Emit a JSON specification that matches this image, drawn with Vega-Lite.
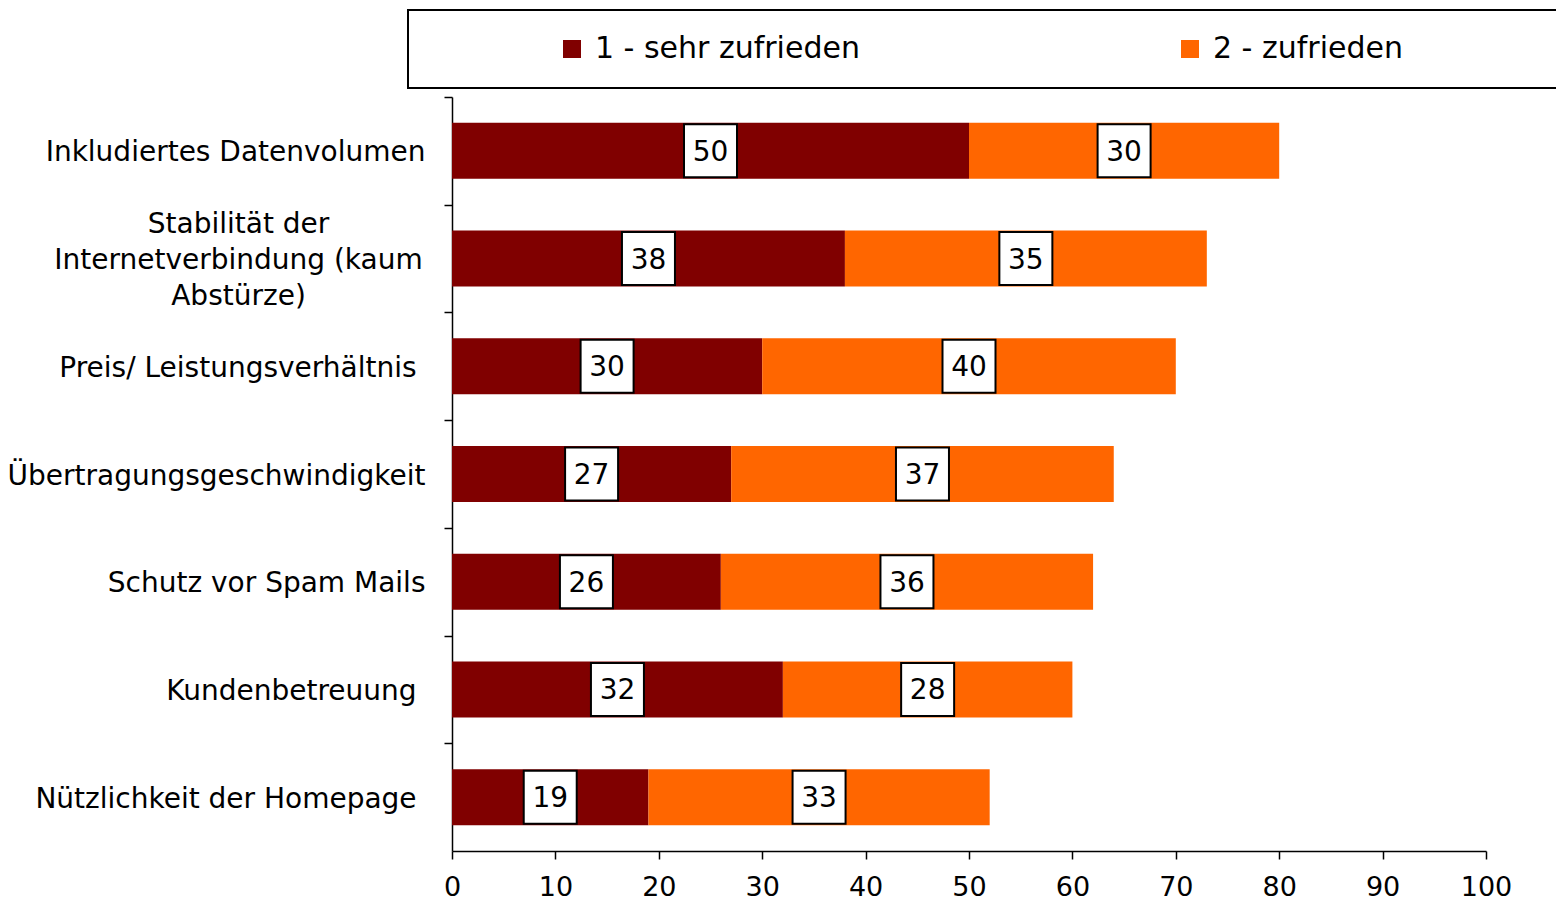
{
  "$schema": "https://vega.github.io/schema/vega-lite/v6.json",
  "autosize": {"type": "none"},
  "width": 1034,
  "height": 754,
  "padding": {"left": 452, "top": 97, "right": 70, "bottom": 49},
  "background": "white",
  "config": {
    "font": "DejaVu Sans",
    "view": {"stroke": null},
    "axis": {"labelFont": "DejaVu Sans", "labelColor": "black", "domainColor": "black", "tickColor": "black", "domainWidth": 1.5, "tickWidth": 1.5, "grid": false, "title": null},
    "legend": {"strokeWidth": 2}
  },
  "data": {
    "values": [
      {"Kategorie": "Inkludiertes Datenvolumen", "Zufriedenheit": "1 - sehr zufrieden", "Prozent": 50},
      {"Kategorie": "Inkludiertes Datenvolumen", "Zufriedenheit": "2 - zufrieden", "Prozent": 30},
      {"Kategorie": "Stabilität der Internetverbindung (kaum Abstürze)", "Zufriedenheit": "1 - sehr zufrieden", "Prozent": 38},
      {"Kategorie": "Stabilität der Internetverbindung (kaum Abstürze)", "Zufriedenheit": "2 - zufrieden", "Prozent": 35},
      {"Kategorie": "Preis/ Leistungsverhältnis\u00a0\u200b", "Zufriedenheit": "1 - sehr zufrieden", "Prozent": 30},
      {"Kategorie": "Preis/ Leistungsverhältnis\u00a0\u200b", "Zufriedenheit": "2 - zufrieden", "Prozent": 40},
      {"Kategorie": "Übertragungsgeschwindigkeit", "Zufriedenheit": "1 - sehr zufrieden", "Prozent": 27},
      {"Kategorie": "Übertragungsgeschwindigkeit", "Zufriedenheit": "2 - zufrieden", "Prozent": 37},
      {"Kategorie": "Schutz vor Spam Mails", "Zufriedenheit": "1 - sehr zufrieden", "Prozent": 26},
      {"Kategorie": "Schutz vor Spam Mails", "Zufriedenheit": "2 - zufrieden", "Prozent": 36},
      {"Kategorie": "Kundenbetreuung\u00a0\u200b", "Zufriedenheit": "1 - sehr zufrieden", "Prozent": 32},
      {"Kategorie": "Kundenbetreuung\u00a0\u200b", "Zufriedenheit": "2 - zufrieden", "Prozent": 28},
      {"Kategorie": "Nützlichkeit der Homepage\u00a0\u200b", "Zufriedenheit": "1 - sehr zufrieden", "Prozent": 19},
      {"Kategorie": "Nützlichkeit der Homepage\u00a0\u200b", "Zufriedenheit": "2 - zufrieden", "Prozent": 33}
    ]
  },
  "encoding": {
    "y": {
      "field": "Kategorie",
      "type": "nominal",
      "sort": null,
      "scale": {"paddingInner": 0.48, "paddingOuter": 0.24},
      "axis": {
        "tickOffset": -53.86,
        "tickSize": 8,
        "labelFontSize": 28,
        "labelLineHeight": 36,
        "labelLimit": 500,
        "labelExpr": "datum.value == 'Stabilität der Internetverbindung (kaum Abstürze)' ? ['Stabilität der', 'Internetverbindung (kaum', 'Abstürze)'] : datum.label",
        "labelAlign": {"condition": {"test": "datum.value == 'Stabilität der Internetverbindung (kaum Abstürze)'", "value": "center"}, "value": "right"},
        "labelPadding": {"condition": {"test": "datum.value == 'Stabilität der Internetverbindung (kaum Abstürze)'", "value": 206}, "value": 19},
        "labelOffset": {"condition": {"test": "datum.value == 'Stabilität der Internetverbindung (kaum Abstürze)'", "value": 19.86}, "value": 55.86}
      }
    },
    "x": {
      "field": "Prozent",
      "type": "quantitative",
      "stack": "zero",
      "scale": {"domain": [0, 100], "nice": false},
      "axis": {"values": [0, 10, 20, 30, 40, 50, 60, 70, 80, 90, 100], "tickSize": 8, "labelFontSize": 27, "labelPadding": 15, "labelFlush": false}
    },
    "order": {"field": "Zufriedenheit", "type": "nominal", "sort": "ascending"}
  },
  "layer": [
    {
      "mark": {"type": "bar"},
      "encoding": {
        "color": {
          "field": "Zufriedenheit",
          "type": "nominal",
          "scale": {"domain": ["1 - sehr zufrieden", "2 - zufrieden"], "range": ["#800000", "#FF6600"]},
          "legend": {
            "orient": "none",
            "legendX": -44,
            "legendY": -87,
            "direction": "horizontal",
            "title": "\u00a0\u200b",
            "titleOrient": "left",
            "titleFontSize": 28,
            "titlePadding": 125,
            "titleLimit": 500,
            "padding": 24,
            "fillColor": "white",
            "strokeColor": "black",
            "symbolType": "square",
            "symbolSize": 324,
            "symbolStrokeWidth": 0,
            "symbolOpacity": 1,
            "labelFontSize": 30,
            "labelColor": "black",
            "labelOffset": 8,
            "labelLimit": 800,
            "columnPadding": 315,
            "labelExpr": "datum.label == '2 - zufrieden' ? datum.label + '\u00a0\u00a0\u00a0\u00a0\u00a0\u00a0\u00a0\u00a0\u00a0\u00a0\u00a0\u00a0\u00a0\u00a0\u00a0\u200b' : datum.label"
          }
        }
      }
    },
    {
      "mark": {"type": "point", "shape": "square", "filled": true, "fill": "white", "stroke": "black", "strokeWidth": 2, "size": 2809, "opacity": 1},
      "encoding": {
        "x": {"field": "Prozent", "type": "quantitative", "stack": "zero", "bandPosition": 0.5}
      }
    },
    {
      "mark": {"type": "text", "fontSize": 28, "color": "black", "align": "center", "baseline": "middle", "dy": 2},
      "encoding": {
        "x": {"field": "Prozent", "type": "quantitative", "stack": "zero", "bandPosition": 0.5},
        "text": {"field": "Prozent", "type": "quantitative"}
      }
    }
  ]
}
